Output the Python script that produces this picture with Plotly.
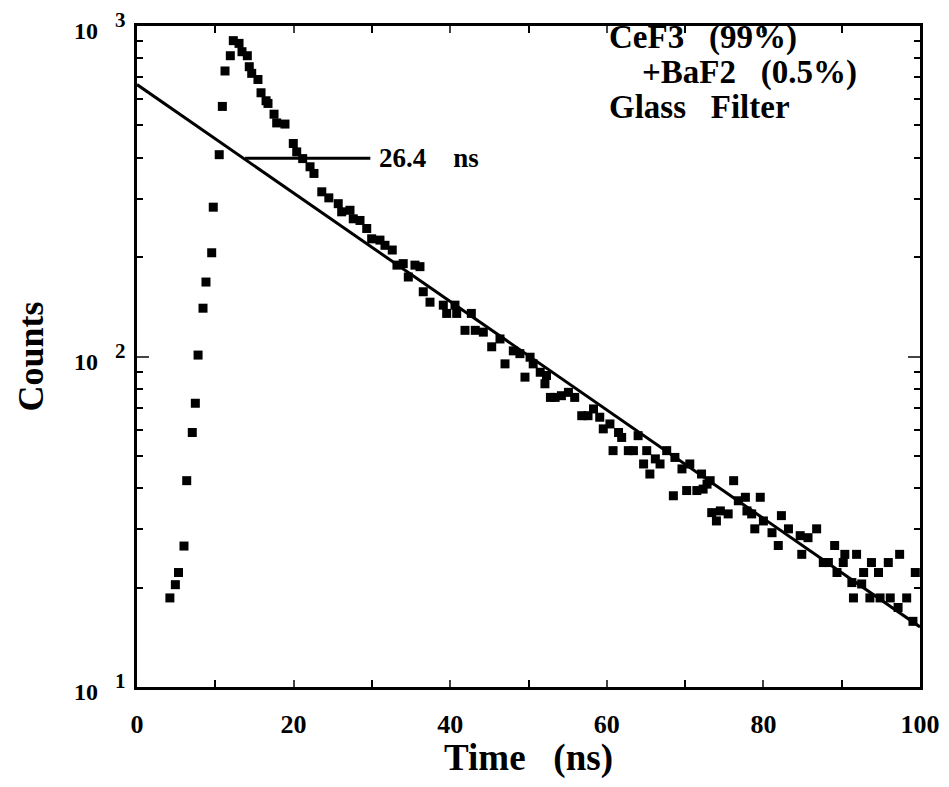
import math
import plotly.graph_objects as go

# Measured decay data (time in ns, counts)
time_ns = [4.2, 4.9, 5.3, 6.0, 6.35, 7.06, 7.45, 7.8, 8.43, 8.81, 9.54, 9.74, 10.5, 10.9, 11.24,
           11.92, 12.3, 13.03, 13.41, 14.09, 14.34, 14.65, 15.45, 15.84, 16.48, 16.73, 17.5, 17.84,
           18.9, 19.96, 20.4, 21.16, 22.1, 22.6, 23.6, 24.5, 25.7, 26.14, 27.2, 27.62, 28.48, 29.34,
           29.97, 31.03, 31.67, 32.6, 33.2, 34.0, 34.65, 35.5, 36.14, 36.56, 37.42, 39.12, 39.55,
           40.61, 40.83, 41.89, 42.7, 43.2, 44.23, 45.3, 46.36, 47.0, 48.06, 48.9, 49.55, 50.2,
           50.6, 51.5, 52.1, 52.3, 52.8, 53.4, 54.2, 55.1, 55.9, 56.8, 57.6, 58.3, 59.1, 59.55,
           60.4, 60.8, 61.5, 61.9, 62.75, 63.4, 64.0, 64.7, 65.1, 65.5, 66.2, 66.8, 67.65, 68.5,
           68.7, 69.6, 70.2, 70.6, 71.5, 72.1, 72.3, 72.8, 73.2, 73.4, 74.0, 74.5, 75.5, 76.2,
           76.8, 77.7, 77.9, 78.5, 78.9, 79.6, 80.0, 81.1, 81.9, 82.3, 83.2, 84.7, 84.9, 85.7,
           86.8, 87.65, 88.3, 89.1, 89.4, 90.2, 90.4, 91.3, 91.5, 91.9, 92.55, 92.8, 93.6, 93.8,
           94.7, 94.9, 95.95, 96.2, 97.2, 97.4, 98.3, 99.1, 99.4]
counts = [18.6, 20.4, 22.2, 26.7, 42.1, 58.9, 72.2, 101, 140, 168, 206, 283, 408, 571, 731,
          813, 903, 886, 836, 813, 753, 719, 689, 628, 594, 583, 541, 509,
          505, 441, 416, 397, 375, 358, 315, 302, 290, 274, 277, 261, 258, 244,
          227, 225, 217, 210, 189, 191, 174, 189, 187, 157, 146, 143, 135,
          143, 135, 120, 135, 120, 118.5, 107, 113, 95, 104, 102, 86.6, 99.5,
          95, 89.6, 82.7, 87.6, 75.2, 75.2, 76.1, 77.9, 75.2, 66.2, 66.2, 69.4, 65.5, 60.4,
          62.5, 51.9, 58.9, 56.9, 51.9, 51.9, 57.6, 47.3, 51.9, 44.1, 49, 47.3, 51.9, 37.9,
          49.5, 45.7, 39.3, 47.3, 39.3, 44.1, 39.7, 41.1, 42.1, 33.7, 31.8, 34.1, 33.4, 42.1,
          36.6, 37.5, 34.1, 33.4, 30.1, 37.5, 31.8, 29.3, 26.8, 33.0, 30.1, 28.7, 25.2, 28.3,
          30.1, 23.8, 23.8, 26.8, 22.2, 23.8, 25.2, 20.7, 18.6, 25.2, 20.5, 22.2, 18.6, 23.8,
          22.2, 18.6, 23.8, 18.6, 17.4, 25.2, 18.6, 15.8, 22.2]

# Exponential fit (straight on log scale), endpoints
fit_time = [0, 100]
fit_counts = [665, 15.2]

# Decay-time marker line
mark_time = [13.8, 29.8]
mark_counts = [398, 398]

x_ticks = [0, 20, 40, 60, 80, 100]
x_ticklabels = ["0", "20", "40", "60", "80", "100"]
y_ticks = [10, 100, 1000]
y_base = "10"
y_exponents = ["1", "2", "3"]

FONT = "Liberation Serif"
NB = "\u00a0"

fig = go.Figure()
fig.add_trace(go.Scatter(x=fit_time, y=fit_counts, mode="lines",
                         line=dict(color="black", width=3), showlegend=False))
fig.add_trace(go.Scatter(x=mark_time, y=mark_counts, mode="lines",
                         line=dict(color="black", width=3), showlegend=False))
fig.add_trace(go.Scatter(x=time_ns, y=counts, mode="markers",
                         marker=dict(symbol="square", size=9, color="black"),
                         showlegend=False))

fig.add_annotation(x=30.6, y=2.6, xref="x", yref="y", text="<b>26.4" + NB * 4 + "ns</b>",
                   showarrow=False, xanchor="left", yanchor="middle",
                   font=dict(family=FONT, size=27, color="black"))

legend_lines = [("CeF3" + NB * 3 + "(99%)", 0.600, 0.982),
                ("+BaF2" + NB * 3 + "(0.5%)", 0.643, 0.930),
                ("Glass" + NB * 3 + "Filter", 0.600, 0.878)]
for txt, px, py in legend_lines:
    fig.add_annotation(x=px, y=py, xref="paper", yref="paper", text="<b>" + txt + "</b>",
                       showarrow=False, xanchor="left", yanchor="middle", align="left",
                       font=dict(family=FONT, size=33, color="black"))

# y tick labels: base "10" with a raised exponent, placed at the tick values
for val, e in zip(y_ticks, y_exponents):
    fig.add_annotation(x=-0.047, y=math.log10(val), xref="paper", yref="y",
                       text="<b>" + y_base + "</b>", showarrow=False,
                       xanchor="right", yanchor="middle", yshift=-5,
                       font=dict(family=FONT, size=24, color="black"))
    fig.add_annotation(x=-0.031, y=math.log10(val), xref="paper", yref="y",
                       text="<b>" + e + "</b>", showarrow=False,
                       xanchor="left", yanchor="middle", yshift=6,
                       font=dict(family=FONT, size=21, color="black"))

fig.update_layout(
    width=933, height=771,
    margin=dict(l=129, r=21, t=18, b=92),
    paper_bgcolor="white", plot_bgcolor="white",
    font=dict(family=FONT, color="black"),
    xaxis=dict(range=[0, 100], tickvals=x_ticks, automargin=False, ticklabeloverflow="allow",
               ticktext=["<b>" + t + "</b>" for t in x_ticklabels],
               ticks="inside", ticklen=7, tickwidth=2, ticklabelstandoff=12,
               showline=True, linewidth=3, linecolor="black", mirror="ticks",
               showgrid=False, zeroline=False,
               minor=dict(ticks="inside", dtick=10, ticklen=7, tickwidth=2, tickcolor="black"),
               tickfont=dict(family=FONT, size=26, color="black"),
               title=dict(text="<b>Time" + NB * 3 + "(ns)</b>",
                          font=dict(family=FONT, size=37), standoff=12)),
    yaxis=dict(type="log", range=[1, 3], tickvals=y_ticks, automargin=False,
               showticklabels=False,
               ticks="inside", ticklen=12, tickwidth=2,
               showline=True, linewidth=3, linecolor="black", mirror="ticks",
               showgrid=False, zeroline=False,
               minor=dict(ticks="inside", dtick="D1", ticklen=6, tickwidth=2, tickcolor="black"),
               title=dict(text="<b>Counts</b>", font=dict(family=FONT, size=36), standoff=80)),
)

fig.write_html("out.html")
